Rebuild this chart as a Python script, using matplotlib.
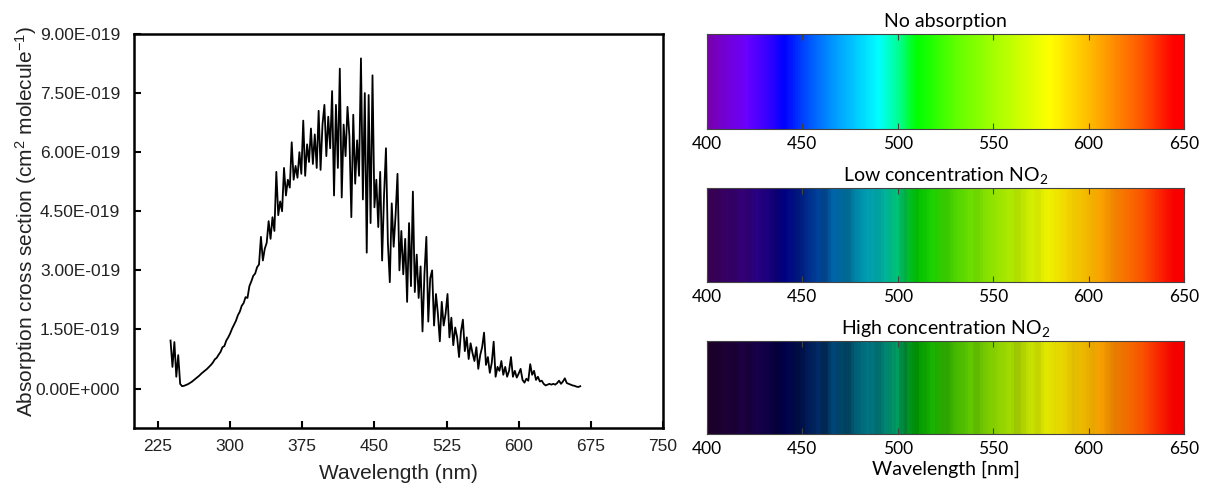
import numpy as np
import matplotlib.pyplot as plt
from matplotlib.colors import LinearSegmentedColormap

# NO2 absorption cross section (1e-19 cm2 molecule-1), every 2 nm from 238 nm
wl_start, wl_step = 238, 2
sigma = [
    1.22, 0.55, 1.18, 0.30, 0.85, 0.12, 0.06, 0.07, 0.09, 0.11,
    0.14, 0.17, 0.21, 0.25, 0.29, 0.33, 0.38, 0.42, 0.46, 0.50,
    0.55, 0.60, 0.66, 0.74, 0.78, 0.86, 0.93, 1.05, 1.08, 1.22,
    1.30, 1.40, 1.52, 1.62, 1.72, 1.86, 1.95, 2.10, 2.17, 2.32,
    2.30, 2.60, 2.72, 2.86, 2.92, 3.08, 3.15, 3.85, 3.25, 3.55,
    3.70, 4.25, 3.80, 4.35, 4.00, 5.50, 4.40, 4.75, 4.50, 5.60,
    4.90, 5.30, 5.10, 6.25, 5.30, 5.65, 5.35, 6.00, 5.45, 6.80,
    5.40, 6.20, 5.75, 6.60, 5.70, 6.45, 5.60, 7.05, 5.55, 6.70,
    7.20, 5.90, 6.90, 6.10, 7.55, 4.90, 7.20, 5.60, 8.12, 4.85,
    6.70, 5.90, 7.15, 6.40, 4.35, 6.95, 5.20, 6.30, 5.40, 8.38,
    4.80, 7.50, 3.45, 7.45, 4.20, 7.95, 4.60, 5.30, 4.10, 5.50,
    3.25, 4.90, 6.10, 3.70, 2.70, 4.70, 3.60, 4.40, 5.45, 3.00,
    4.00, 2.90, 3.80, 2.20, 4.20, 2.60, 5.00, 2.45, 3.40, 2.30,
    3.10, 1.45, 2.90, 3.85, 1.70, 2.80, 3.00, 1.60, 2.40, 1.90,
    1.20, 2.20, 1.60, 1.90, 2.40, 1.30, 1.80, 1.10, 1.55, 1.30,
    0.80, 1.45, 1.75, 0.95, 1.30, 0.75, 1.15, 0.90, 0.70, 1.05,
    0.50, 0.85, 1.05, 1.42, 0.60, 0.80, 0.40, 0.65, 1.19, 0.30,
    0.55, 0.45, 0.70, 0.35, 0.55, 0.30, 0.45, 0.80, 0.30, 0.45,
    0.28, 0.38, 0.50, 0.22, 0.15, 0.25, 0.20, 0.62, 0.35, 0.45,
    0.22, 0.30, 0.18, 0.20, 0.12, 0.08, 0.10, 0.12, 0.10, 0.12,
    0.10, 0.14, 0.20, 0.12, 0.18, 0.26, 0.14, 0.12, 0.10, 0.08,
    0.07, 0.05, 0.04, 0.06,
]
wl = wl_start + wl_step * np.arange(len(sigma))

x_ticks = [225, 300, 375, 450, 525, 600, 675, 750]
y_ticks = [0, 1.5, 3, 4.5, 6, 7.5, 9]
y_tick_labels = ["0.00E+000", "1.50E-019", "3.00E-019", "4.50E-019",
                 "6.00E-019", "7.50E-019", "9.00E-019"]

# visible colour of each wavelength
stop_wl = [400, 410, 420, 430, 440, 455, 470, 480, 490, 500, 510,
           530, 550, 565, 580, 595, 612, 630, 645, 650]
stop_rgb = [(120, 0, 175), (115, 0, 215), (106, 0, 255), (61, 0, 255),
            (0, 0, 255), (0, 97, 255), (0, 170, 255), (0, 213, 255),
            (0, 255, 255), (0, 255, 146), (0, 255, 0), (94, 255, 0),
            (163, 255, 0), (210, 255, 0), (255, 255, 0), (255, 207, 0),
            (255, 148, 0), (255, 79, 0), (255, 0, 0), (255, 0, 0)]

bar_titles = ["No absorption", r"Low concentration NO$\mathregular{_2}$",
              r"High concentration NO$\mathregular{_2}$"]
bar_depth = [0.0, 0.12, 0.22]   # optical depth per 1e-19 cm2
bar_ticks = [400, 450, 500, 550, 600, 650]

fig = plt.figure(figsize=(12.06, 4.88), dpi=100)

# --- cross section spectrum ---
ax = fig.add_axes([0.1111, 0.1230, 0.4386, 0.8074])
ax.plot(wl, sigma, color="black", lw=1.3)
ax.set_xlim(200, 750)
ax.set_ylim(-1, 9)
ax.set_xticks(x_ticks)
ax.set_yticks(y_ticks)
ax.set_yticklabels(y_tick_labels)
for s in ax.spines.values():
    s.set_linewidth(1.8)
ax.tick_params(direction="in", length=5, width=1.5, labelsize=12.5,
               labelcolor="#222222")
ax.tick_params(axis="y", pad=10)
ax.tick_params(axis="x", pad=8)
for lab in ax.get_xticklabels() + ax.get_yticklabels():
    lab.set_family("Liberation Sans")
ax.set_xlabel("Wavelength (nm)", fontsize=15, family="Liberation Sans",
              color="#222222", labelpad=7)
ax.set_ylabel(r"Absorption cross section (cm$\mathregular{^2}$ molecule$\mathregular{^{-1}}$)",
              fontsize=15, family="Liberation Sans", color="#222222")
ax.yaxis.set_label_coords(-0.18, 0.525)

# --- colour bars ---
cmap = LinearSegmentedColormap.from_list(
    "visible",
    [((w - 400) / 250, tuple(c / 255 for c in rgb)) for w, rgb in zip(stop_wl, stop_rgb)])
grid = np.arange(400, 650.01, 0.5)
base = cmap((grid - 400) / 250)[:, :3]
sig_smooth = np.convolve(sigma, [0.25, 0.5, 0.25], mode="same")
idx = np.round((grid - wl_start) / wl_step).astype(int)
sig_grid = sig_smooth[idx]

bar_rects = [[0.5862, 0.7357, 0.3955, 0.1947],
             [0.5862, 0.4221, 0.3955, 0.1926],
             [0.5862, 0.1107, 0.3955, 0.1906]]
for rect, title, depth in zip(bar_rects, bar_titles, bar_depth):
    bx = fig.add_axes(rect)
    trans = np.exp(-depth * sig_grid)[:, None]
    row = base * trans
    img = np.repeat(row[None, :, :], 2, axis=0)
    bx.imshow(img, extent=[400, 650, 0, 1], aspect="auto",
              interpolation="nearest")
    bx.set_xlim(400, 650)
    bx.set_ylim(0, 1)
    bx.set_yticks([])
    bx.set_xticks(bar_ticks)
    bx.tick_params(axis="x", direction="in", length=4, width=0.8,
                   color="#444444", top=True, labelsize=12.5, pad=5)
    for lab in bx.get_xticklabels():
        lab.set_family("Lato")
    for s in bx.spines.values():
        s.set_linewidth(0.8)
        s.set_color("#444444")
    bx.set_title(title, fontsize=14, family="Lato", pad=5)
    if depth == bar_depth[-1]:
        bx.set_xlabel("Wavelength [nm]", fontsize=14, family="Lato",
                      labelpad=3)

fig.savefig("out.png", dpi=100)
